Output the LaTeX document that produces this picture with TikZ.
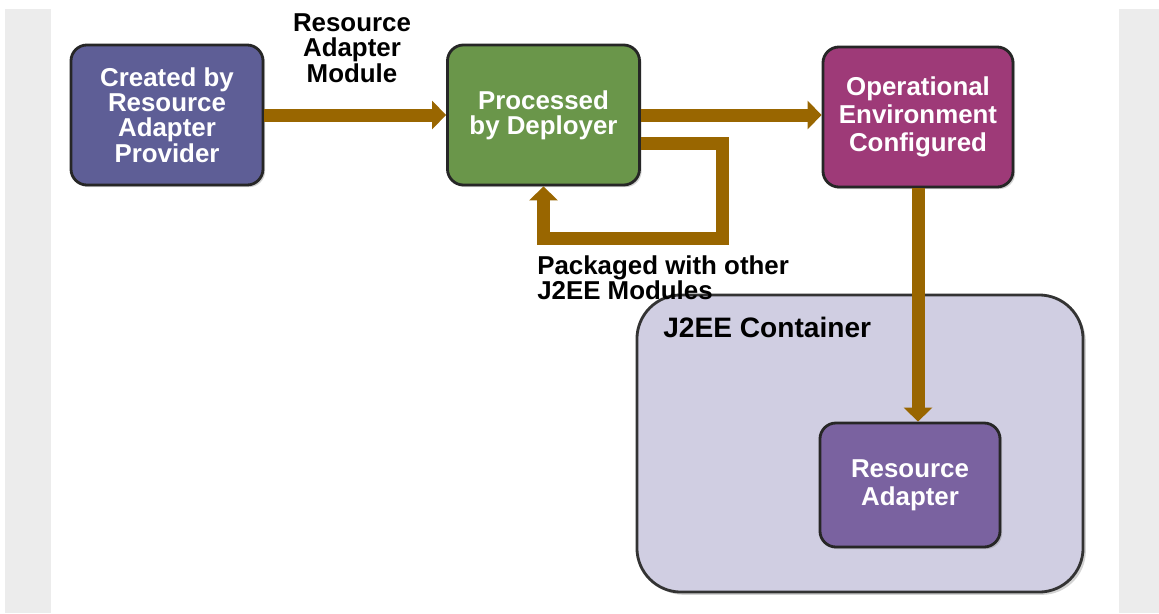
\documentclass[tikz,border=0pt]{standalone}
\usepackage{fontspec}
\setmainfont{Liberation Sans}
\usetikzlibrary{arrows.meta,shadows}

\definecolor{flowbrown}{RGB}{153,102,0}
\definecolor{provblue}{RGB}{94,94,150}
\definecolor{depgreen}{RGB}{106,150,74}
\definecolor{opsmagenta}{RGB}{158,58,120}
\definecolor{contlilac}{RGB}{208,206,226}
\definecolor{adaptpurple}{RGB}{122,98,160}
\definecolor{margingray}{RGB}{236,236,236}

\begin{document}
\begin{tikzpicture}[x=0.025cm,y=-0.025cm]

    \def\boxw{4.8cm}
    \def\boxh{3.5cm}
    \def\labelfont{\bfseries\fontsize{18.4}{18}\selectfont}
    \def\widefont{\bfseries\fontsize{18.4}{20}\selectfont}

    % Styles
    \tikzstyle{stage}=[draw=black!85, line width=2pt, rounded corners=0.4cm,
        minimum width=\boxw, minimum height=\boxh, align=center, text=white,
        font=\labelfont,
        drop shadow={shadow xshift=1.5pt, shadow yshift=-1.5pt, opacity=0.35}]
    \tikzstyle{flow}=[draw=flowbrown, line width=0.325cm,
        -{Triangle[width=0.7cm,length=0.35cm]}]
    \tikzstyle{caption}=[inner sep=0pt, font=\labelfont]

    \useasboundingbox (0,0) rectangle (1159,613);

    % page margins
    \fill[margingray] (5,9) rectangle (51,613);
    \fill[margingray] (1119,9) rectangle (1159,613);

    % stages
    \node[stage, fill=provblue] (prov) at (167,115) {Created by\\Resource\\Adapter\\Provider};
    \node[stage, fill=depgreen] (dep) at (543.5,115) {Processed\\by Deployer};
    \node[stage, fill=opsmagenta, minimum width=4.75cm, font=\widefont] (ops) at (918,117) {Operational\\Environment\\Configured};

    % container
    \node[draw=black!80, line width=2pt, fill=contlilac, rounded corners=1.1cm,
        minimum width=11.15cm, minimum height=7.425cm,
        drop shadow={shadow xshift=2pt, shadow yshift=-2pt, opacity=0.35}] (cont) at (860,443.5) {};
    \node[caption, anchor=base west, font=\bfseries\fontsize{20}{20}\selectfont] (conttitle) at (663,337) {J2EE Container};
    \node[stage, fill=adaptpurple, minimum width=4.5cm, minimum height=3.1cm, font=\widefont] (ra) at (910,485) {Resource\\Adapter};

    % labels
    \node[caption, align=center] (modlabel) at (352,48) {Resource\\Adapter\\Module};
    \node[caption, align=left, anchor=north west] (packlabel) at (537,255) {Packaged with other\\J2EE Modules};

    % flows
    \draw[flow] (prov.east) -- (dep.west);
    \draw[flow] (dep.east) -- (dep.east -| ops.west);
    \coordinate (loopturn) at (722,238);
    \draw[flow] ([yshift=-0.7cm]dep.east) -| (loopturn) -| (dep.south);
    \draw[flow] (ops.south) -- (ops.south |- ra.north);

\end{tikzpicture}
\end{document}
